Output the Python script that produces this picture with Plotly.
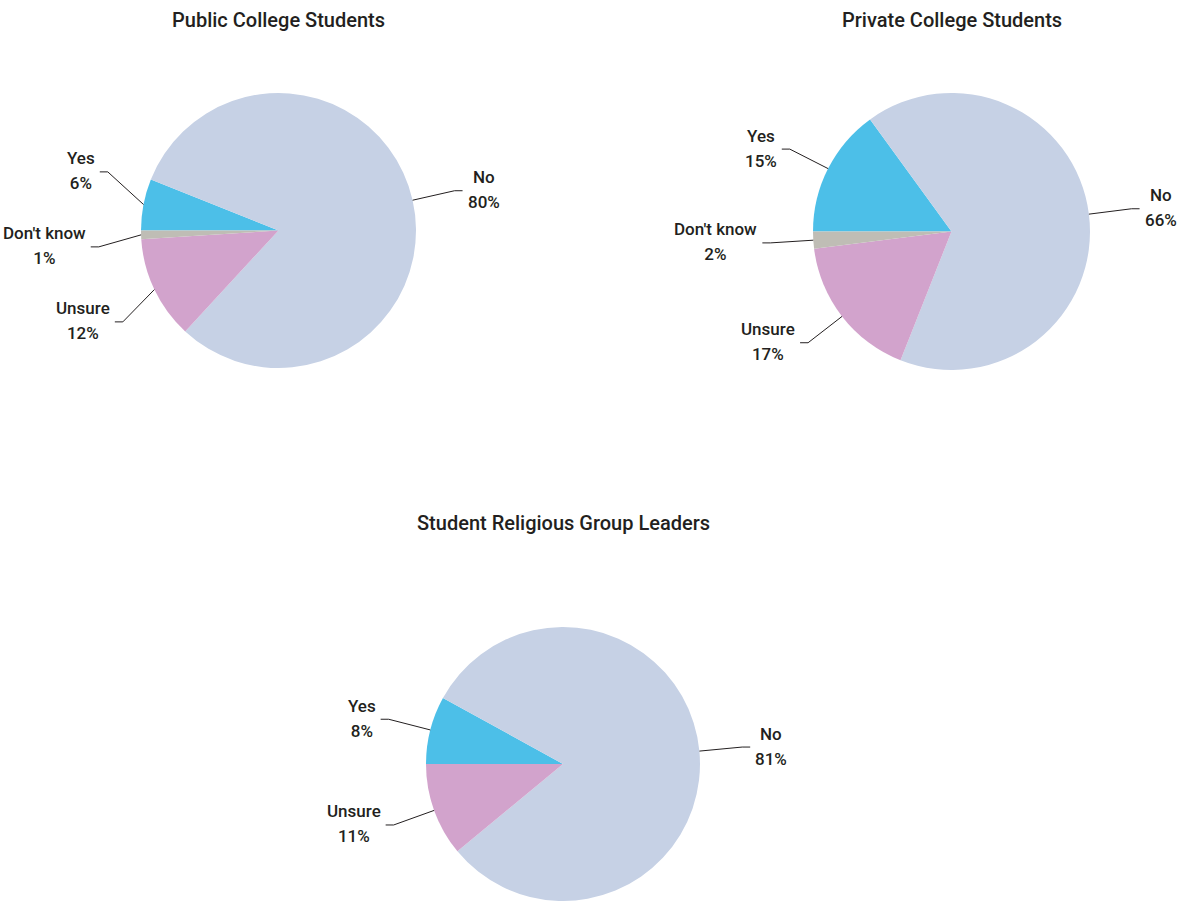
import math
import plotly.graph_objects as go

W, H = 1186, 901

categories = ["Yes", "No", "Unsure", "Don't know"]
public_values = [6, 80, 12, 1]
private_values = [15, 66, 17, 2]
leaders_values = [8, 81, 11, 0]
titles = ["Public College Students", "Private College Students", "Student Religious Group Leaders"]

slice_colors = ["#4CBFE8", "#C6D1E5", "#D2A3CC", "#BFBDB5"]
TEXT = "#231F20"
FONT = "Roboto, Liberation Sans, sans-serif"

# pixel geometry of each pie: centre, radius, title position
geoms = [
    dict(cx=278.5, cy=230.5, r=137.5, ty=20),
    dict(cx=951.5, cy=231.5, r=138.5, ty=20),
    dict(cx=563.0, cy=764.0, r=137.0, ty=523),
]
datasets = [public_values, private_values, leaders_values]

LABEL_GAP = 75      # min vertical spacing between label blocks
ELBOW_OFF = 43      # elbow distance beyond the rim
STUB = 8            # horizontal stub length
TXT_PAD = 3
LBL_SIZE = 17
LINE_SIZE = 19      # controls line spacing of the two-line labels

fig = go.Figure()
annotations = []
shapes = []


def px(x):
    return x / W


def py(y):
    return 1 - y / H


def spread(items):
    """items: list of dicts with 'iy' ideal y; sets 'y' avoiding overlap."""
    items = sorted(items, key=lambda d: d["iy"])
    clusters = [[it] for it in items]

    def place(cl):
        c = sum(it["iy"] - k * LABEL_GAP for k, it in enumerate(cl)) / len(cl)
        for k, it in enumerate(cl):
            it["y"] = c + k * LABEL_GAP

    for cl in clusters:
        place(cl)
    changed = True
    while changed:
        changed = False
        for i in range(len(clusters) - 1):
            a, b = clusters[i], clusters[i + 1]
            if b[0]["y"] - a[-1]["y"] < LABEL_GAP - 1e-6:
                merged = a + b
                place(merged)
                clusters = clusters[:i] + [merged] + clusters[i + 2:]
                changed = True
                break
    return items


for vals, g, title in zip(datasets, geoms, titles):
    cx, cy, r = g["cx"], g["cy"], g["r"]
    fig.add_trace(go.Pie(
        labels=categories, values=vals, sort=False,
        direction="clockwise", rotation=-90,
        marker=dict(colors=slice_colors, line=dict(width=0)),
        textinfo="none", hoverinfo="label+percent",
        domain=dict(x=[px(cx - r), px(cx + r)], y=[py(cy + r), py(cy - r)]),
        showlegend=False,
    ))
    annotations.append(dict(
        text=title, x=px(cx), y=py(g["ty"]), xref="paper", yref="paper",
        xanchor="center", yanchor="middle", showarrow=False,
        font=dict(family=FONT, size=20, color=TEXT, weight=500),
    ))

    total = sum(vals)
    cum = 0.0
    left, right = [], []
    R = r + ELBOW_OFF
    for lab, v in zip(categories, vals):
        f = v / total
        if v > 0:
            phi = math.radians(-90 + 360 * (cum + f / 2))
            sx, sy = math.sin(phi), -math.cos(phi)
            item = dict(label=lab, value=v,
                        x0=cx + r * sx, y0=cy + r * sy,
                        iy=cy + R * sy, side=-1 if sx < 0 else 1)
            (left if sx < 0 else right).append(item)
        cum += f

    for group in (left, right):
        for it in spread(group):
            dy = it["y"] - cy
            ex = cx + it["side"] * math.sqrt(max(R * R - dy * dy, 0))
            sx_end = ex + it["side"] * STUB
            shapes.append(dict(
                type="path", xref="paper", yref="paper",
                path=f"M {px(it['x0'])},{py(it['y0'])} L {px(ex)},{py(it['y'])} L {px(sx_end)},{py(it['y'])}",
                line=dict(color=TEXT, width=1),
            ))
            sp = f"<span style='font-size:{LBL_SIZE}px'>"
            annotations.append(dict(
                text=f"{sp}{it['label']}</span><br>{sp}{it['value']}%</span>",
                x=px(sx_end + it["side"] * TXT_PAD), y=py(it["y"] - 1),
                xref="paper", yref="paper",
                xanchor="left" if it["side"] > 0 else "right",
                yanchor="middle", align="center", showarrow=False,
                font=dict(family=FONT, size=LINE_SIZE, color=TEXT, weight=500),
            ))

fig.update_layout(
    width=W, height=H,
    margin=dict(l=0, r=0, t=0, b=0),
    paper_bgcolor="white", plot_bgcolor="white",
    annotations=annotations, shapes=shapes,
)

fig.write_html("out.html")
